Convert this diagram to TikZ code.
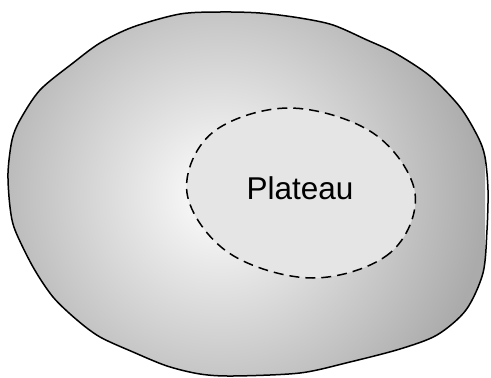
\documentclass[tikz,border=0pt]{standalone}
\usepackage{fontspec}
\setmainfont{Liberation Sans}
\usetikzlibrary{positioning}
\tikzset{
    rim/.style={draw=black, line width=1.5pt},
    plateauline/.style={draw=black, line width=1.5pt, dash pattern=on 10pt off 6pt, fill=black!10},
    label/.style={font=\fontsize{31.5}{36}\selectfont, text=black}
}

\begin{document}
\begin{tikzpicture}[x=1pt, y=-1pt]
    \useasboundingbox (0,0) rectangle (491,378);

    % Outer slope
    \def\outline{plot[smooth cycle, tension=0.5] coordinates {
        (133,27) (180,14) (220,12) (260,13) (300,18) (333,25) (367,40)
        (395,53) (430,76) (460,107) (478,137) (485,157) (488,190)
        (487,230) (483,273) (466,310) (437,335) (400,349) (350,362)
        (300,373) (233,376) (200,374) (167,366) (133,352) (100,337)
        (77,320) (53,297) (33,267) (15,230) (10,207) (8,173) (12,140)
        (20,120) (40,90) (73,63) (100,43)}}
    \begin{scope}
        \clip \outline;
        \shade[inner color=white, outer color=black!33] (-45,-70) rectangle (485,460);
    \end{scope}
    \draw[rim] \outline;

    % Plateau
    \draw[plateauline] plot[smooth cycle, tension=0.6] coordinates {
        (415,193) (390,253) (313,278) (229,253) (187,193) (212,133)
        (289,108) (373,133)};
    \node (plateau) [label] at (300,188) {Plateau};
\end{tikzpicture}
\end{document}
